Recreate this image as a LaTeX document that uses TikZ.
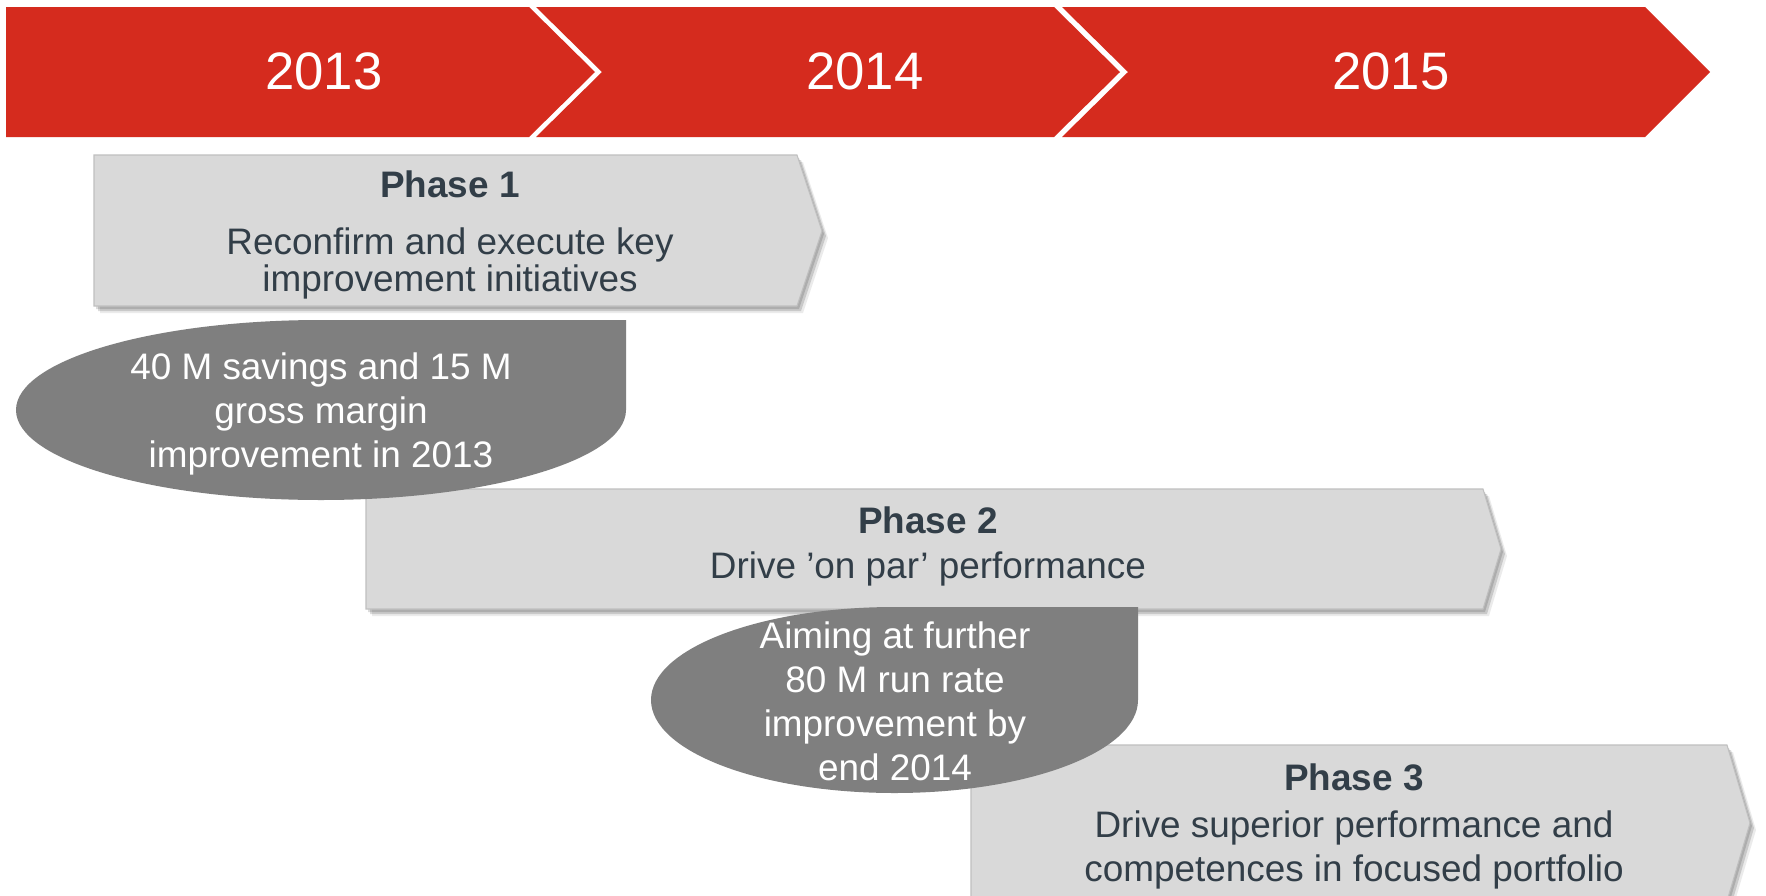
\documentclass[tikz,border=0pt]{standalone}
\usepackage{fontspec}
\setmainfont{Liberation Sans}
\usepackage{tikz}
\definecolor{myred}{RGB}{213,43,30}
\definecolor{mygray}{RGB}{217,217,217}
\definecolor{myedge}{RGB}{192,192,192}
\definecolor{mybubble}{RGB}{127,127,127}
\definecolor{mydark}{RGB}{50,62,72}
\tikzset{
  yearband/.style={fill=myred},
  yeartext/.style={text=white, font=\fontsize{30}{36}\selectfont, anchor=base},
  phasebox/.style={fill=mygray, draw=myedge, line width=0.6pt},
  phasetitle/.style={text=mydark, font=\bfseries\fontsize{21}{25}\selectfont, anchor=base},
  phasetext/.style={text=mydark, font=\fontsize{21}{25}\selectfont, align=center, anchor=base},
  bubble/.style={fill=mybubble},
  bubbletext/.style={text=white, font=\fontsize{21}{25}\selectfont, align=center, anchor=base}
}

\begin{document}
\begin{tikzpicture}[x=0.02cm, y=-0.02cm]
  \useasboundingbox (0,0) rectangle (1766,896);
  \clip (0,0) rectangle (1766,896);
  \fill[white] (0,0) rectangle (1766,896);

  % year band
  \fill[yearband] (6,7) -- (529,7) -- (595,72) -- (529,137) -- (6,137) -- cycle;
  \fill[yearband] (536,7) -- (1054,7) -- (1120,72) -- (1054,137) -- (536,137) -- (602,72) -- cycle;
  \fill[yearband] (1062,7) -- (1645,7) -- (1710,72) -- (1645,137) -- (1062,137) -- (1128,72) -- cycle;
  \node[yeartext] (y2013) at (324,89) {2013};
  \node[yeartext] (y2014) at (865,89) {2014};
  \node[yeartext] (y2015) at (1391,89) {2015};

  % phase arrows
  \foreach \s/\o in {2/0.14, 4/0.14, 6/0.08} {
    \fill[black, opacity=\o, shift={(\s,\s+1)}] (94,155) -- (797,155) -- (822,231) -- (797,306) -- (94,306) -- cycle;
    \fill[black, opacity=\o, shift={(\s,\s+1)}] (366,489) -- (1483,489) -- (1501,549) -- (1483,609) -- (366,609) -- cycle;
    \fill[black, opacity=\o, shift={(\s,\s+1)}] (971,745) -- (1727,745) -- (1750,823) -- (1727,901) -- (971,901) -- cycle;
  }
  \filldraw[phasebox] (94,155) -- (797,155) -- (822,231) -- (797,306) -- (94,306) -- cycle;
  \filldraw[phasebox] (366,489) -- (1483,489) -- (1501,549) -- (1483,609) -- (366,609) -- cycle;
  \filldraw[phasebox] (971,745) -- (1727,745) -- (1750,823) -- (1727,901) -- (971,901) -- cycle;

  % multi-line texts sit on the baseline of their last line
  \node[phasetitle] (ph1title) at (450,197) {Phase 1};
  \node[phasetext, font=\fontsize{21}{21}\selectfont] (ph1text) at (450,291) {Reconfirm and execute key\\improvement initiatives};
  \node[phasetitle] (ph2title) at (928,533) {Phase 2};
  \node[phasetext] (ph2text) at (928,578) {Drive ’on par’ performance};
  \node[phasetitle] (ph3title) at (1354,790) {Phase 3};
  \node[phasetext] (ph3text) at (1354,881) {Drive superior performance and\\competences in focused portfolio};

  % savings bubbles
  \fill[bubble] (626,320) -- (626,410) arc[start angle=0, end angle=270, x radius=305, y radius=90] -- cycle;
  \fill[bubble] (1138,607) -- (1138,700) arc[start angle=0, end angle=270, x radius=243.5, y radius=93] -- cycle;

  \node[bubbletext] (sav13) at (321,467) {40 M savings and 15 M\\gross margin\\improvement in 2013};
  \node[bubbletext] (sav14) at (895,780) {Aiming at further\\80 M run rate\\improvement by\\end 2014};
\end{tikzpicture}
\end{document}
